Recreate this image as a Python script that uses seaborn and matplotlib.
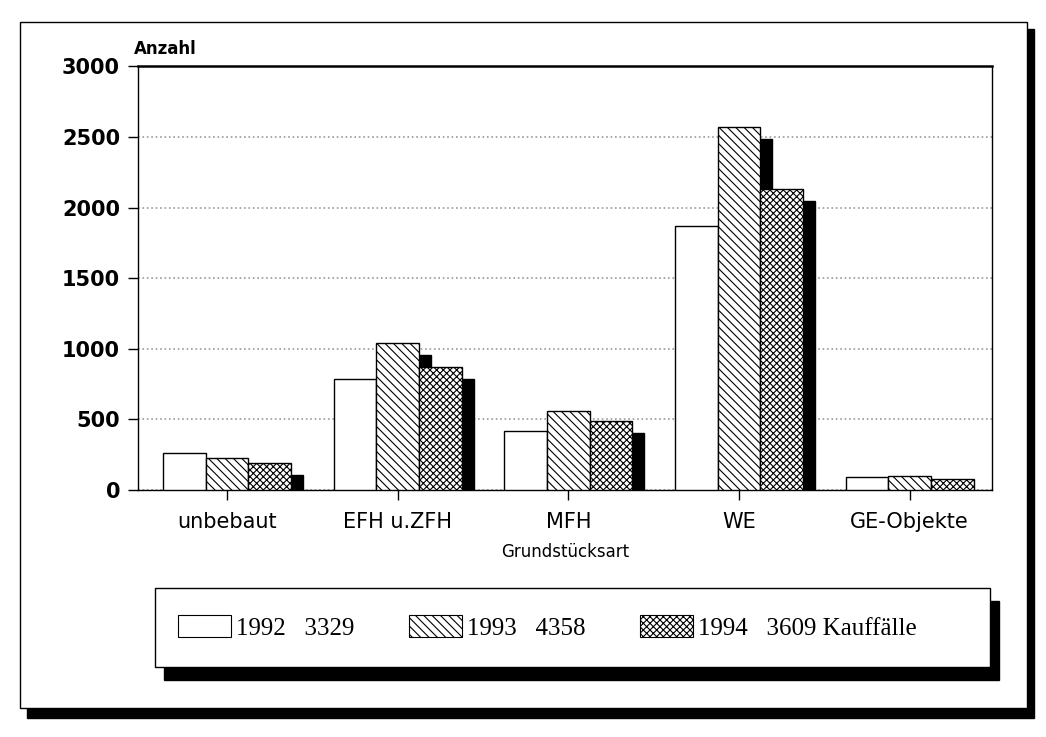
import numpy as np
import pandas as pd
import matplotlib
matplotlib.use("Agg")
import matplotlib.pyplot as plt
from matplotlib.patches import Rectangle, Patch
import seaborn as sns

# values
categories = ["unbebaut", "EFH u.ZFH", "MFH", "WE", "GE-Objekte"]
years = ["1992", "1993", "1994"]
totals = ["3329", "4358", "3609"]
values_1992 = [260, 790, 420, 1870, 90]
values_1993 = [230, 1040, 560, 2570, 100]
values_1994 = [190, 870, 490, 2130, 80]
hatches = ["", "\\\\\\\\", "xxxxx"]
yticks = [0, 500, 1000, 1500, 2000, 2500, 3000]

df = pd.DataFrame({
    "Grundstücksart": categories * 3,
    "Anzahl": values_1992 + values_1993 + values_1994,
    "Jahr": [y for y in years for _ in categories],
})

sns.set_style("white")
plt.rcParams["font.family"] = ["DejaVu Sans"]
plt.rcParams["hatch.linewidth"] = 0.8
plt.rcParams["text.color"] = "black"
plt.rcParams["xtick.color"] = "black"
plt.rcParams["ytick.color"] = "black"
plt.rcParams["axes.labelcolor"] = "black"

fig = plt.figure(figsize=(10.46, 7.37), dpi=100)
ax = fig.add_axes([0.132, 0.335, 0.816, 0.575])

sns.barplot(data=df, x="Grundstücksart", y="Anzahl", hue="Jahr",
            palette=["white"] * 3, edgecolor="black", linewidth=1.0,
            width=0.75, legend=False, ax=ax, zorder=3)

# hatch patterns and the black drop shadows behind each bar
dx, dy = 0.07, 86
for container, h in zip(ax.containers, hatches):
    for bar in container:
        bar.set_hatch(h)
        bar.set_zorder(3)
        sh = bar.get_height() - dy
        if sh > 0:
            ax.add_patch(Rectangle((bar.get_x() + dx, 0), bar.get_width(), sh,
                                   facecolor="black", edgecolor="black",
                                   zorder=2))

ax.set_ylim(0, 3000)
ax.set_xlim(-0.52, 4.48)
ax.set_yticks(yticks)
ax.set_yticklabels([str(t) for t in yticks], fontsize=15, fontweight="bold")
ax.tick_params(axis="both", direction="out", length=7, width=1, color="black",
               left=True, bottom=True)
ax.tick_params(axis="y", pad=6)
ax.tick_params(axis="x", labelsize=15, pad=9)
ax.set_xlabel("Grundstücksart", fontsize=12, labelpad=8)
ax.set_ylabel("")
ax.text(-0.005, 1.02, "Anzahl", transform=ax.transAxes, fontsize=12,
        fontweight="bold", ha="left", va="bottom")

ax.grid(axis="y", linestyle=":", color="#999999", linewidth=1.2, zorder=0)
ax.set_axisbelow(True)
for side in ["left", "bottom", "right"]:
    ax.spines[side].set_visible(True)
    ax.spines[side].set_color("black")
    ax.spines[side].set_linewidth(1.0)
ax.spines["top"].set_visible(True)
ax.spines["top"].set_color("black")
ax.spines["top"].set_linewidth(1.8)

# legend box (drawn by hand) with its own shadow
fig.patches.append(Rectangle((0.157, 0.078), 0.798, 0.107, transform=fig.transFigure,
                             facecolor="black", edgecolor="black", zorder=1))
fig.patches.append(Rectangle((0.148, 0.095), 0.798, 0.107, transform=fig.transFigure,
                             facecolor="white", edgecolor="black", linewidth=1.0,
                             zorder=2))
handles = [Patch(facecolor="white", edgecolor="black", hatch=h, linewidth=0.8)
           for h in hatches]
labels = [f"{y}   {t}" for y, t in zip(years, totals)]
labels[-1] += " Kauffälle"
leg = fig.legend(handles, labels, ncol=3, loc="center left",
                 bbox_to_anchor=(0.1705, 0.1485), frameon=False,
                 prop={"family": ["Liberation Serif", "DejaVu Serif"], "size": 18},
                 handlelength=2.1, handleheight=0.95, handletextpad=0.2,
                 borderaxespad=0, borderpad=0, columnspacing=2.2)
leg.set_zorder(5)

# outer frame of the page with drop shadow
fig.patches.append(Rectangle((0.026, 0.026), 0.963, 0.935, transform=fig.transFigure,
                             facecolor="black", edgecolor="black", zorder=-2))
fig.patches.append(Rectangle((0.019, 0.04), 0.963, 0.93, transform=fig.transFigure,
                             facecolor="white", edgecolor="black", linewidth=1.0,
                             zorder=-1))

fig.savefig("out.png", dpi=100)
